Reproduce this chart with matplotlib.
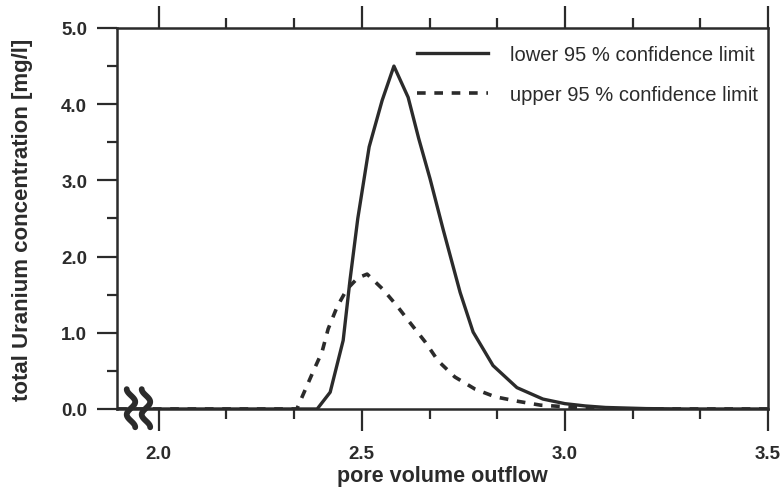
import numpy as np
import matplotlib
matplotlib.use("Agg")
import matplotlib.pyplot as plt
from matplotlib.ticker import MultipleLocator, FormatStrFormatter

plt.rcParams['font.family'] = ['Liberation Sans', 'DejaVu Sans']

# lower 95 % confidence limit (solid)
lower_x = [1.90, 2.38, 2.39, 2.422, 2.454, 2.471, 2.49, 2.518, 2.55, 2.579,
           2.614, 2.640, 2.668, 2.700, 2.742, 2.774, 2.823, 2.882, 2.946, 3.0,
           3.05, 3.1, 3.2, 3.3, 3.5]
lower_y = [0.0, 0.0, 0.0, 0.22, 0.9, 1.7, 2.5, 3.44, 4.05, 4.5,
           4.09, 3.55, 3.02, 2.36, 1.53, 1.01, 0.57, 0.28, 0.13, 0.07,
           0.04, 0.02, 0.005, 0.0, 0.0]

# upper 95 % confidence limit (dashed)
upper_x = [1.90, 2.34, 2.353, 2.38, 2.402, 2.417, 2.439, 2.463, 2.49, 2.513,
           2.552, 2.587, 2.619, 2.656, 2.688, 2.729, 2.779, 2.828, 2.885, 2.94,
           3.0, 3.05, 3.1, 3.5]
upper_y = [0.0, 0.0, 0.16, 0.49, 0.75, 1.05, 1.34, 1.57, 1.72, 1.77,
           1.57, 1.35, 1.13, 0.88, 0.63, 0.42, 0.26, 0.16, 0.10, 0.05,
           0.03, 0.01, 0.0, 0.0]

ink = '#2b2b2b'

fig = plt.figure(figsize=(7.82, 4.89), dpi=100)
ax = fig.add_axes([0.1496, 0.1616, 0.8324, 0.7791])

ax.plot(lower_x, lower_y, color=ink, lw=2.4, label='lower 95 % confidence limit')
ax.plot(upper_x, upper_y, color=ink, lw=2.6, dashes=(2.4, 2.4),
        label='upper 95 % confidence limit')

ax.set_xlim(1.897, 3.5)
ax.set_ylim(0, 5.0)

ax.xaxis.set_major_locator(MultipleLocator(0.5))
ax.xaxis.set_minor_locator(MultipleLocator(0.5 / 3))
ax.yaxis.set_major_locator(MultipleLocator(1.0))
ax.yaxis.set_minor_locator(MultipleLocator(0.5))
ax.xaxis.set_major_formatter(FormatStrFormatter('%.1f'))
ax.yaxis.set_major_formatter(FormatStrFormatter('%.1f'))

ax.tick_params(axis='x', which='both', direction='out', top=True, bottom=True,
               colors=ink, width=1.6)
ax.tick_params(axis='x', which='major', length=16, pad=10, labelsize=13.5)
ax.tick_params(axis='x', which='minor', length=7.5)
ax.tick_params(axis='y', which='both', direction='out', left=True, right=False,
               colors=ink, width=1.6)
ax.tick_params(axis='y', which='major', length=14.5, pad=7, labelsize=13.5)
ax.tick_params(axis='y', which='minor', length=7)
for lab in ax.get_xticklabels() + ax.get_yticklabels():
    lab.set_fontweight('bold')

for s in ax.spines.values():
    s.set_color(ink)
    s.set_linewidth(1.8)

ax.set_xlabel('pore volume outflow', fontsize=15.5, fontweight='bold',
              color=ink, labelpad=2)
ax.set_ylabel('total Uranium concentration [mg/l]', fontsize=16,
              fontweight='bold', color=ink, labelpad=20)

leg = ax.legend(loc='upper left', bbox_to_anchor=(0.461, 0.955), frameon=False,
                fontsize=14.5, handlelength=3.5, handletextpad=1.1,
                labelspacing=1.05, borderpad=0, borderaxespad=0)
for t in leg.get_texts():
    t.set_color(ink)

# axis break marks
t = np.linspace(0, 1, 60)
for cx in (0.0215, 0.0445):
    ax.plot(cx - 0.0065 * np.cos(3 * np.pi * t), 0.052 - 0.10 * t,
            transform=ax.transAxes, color=ink, lw=4.2, solid_capstyle='round',
            clip_on=False)

fig.savefig('out.png', dpi=100)
